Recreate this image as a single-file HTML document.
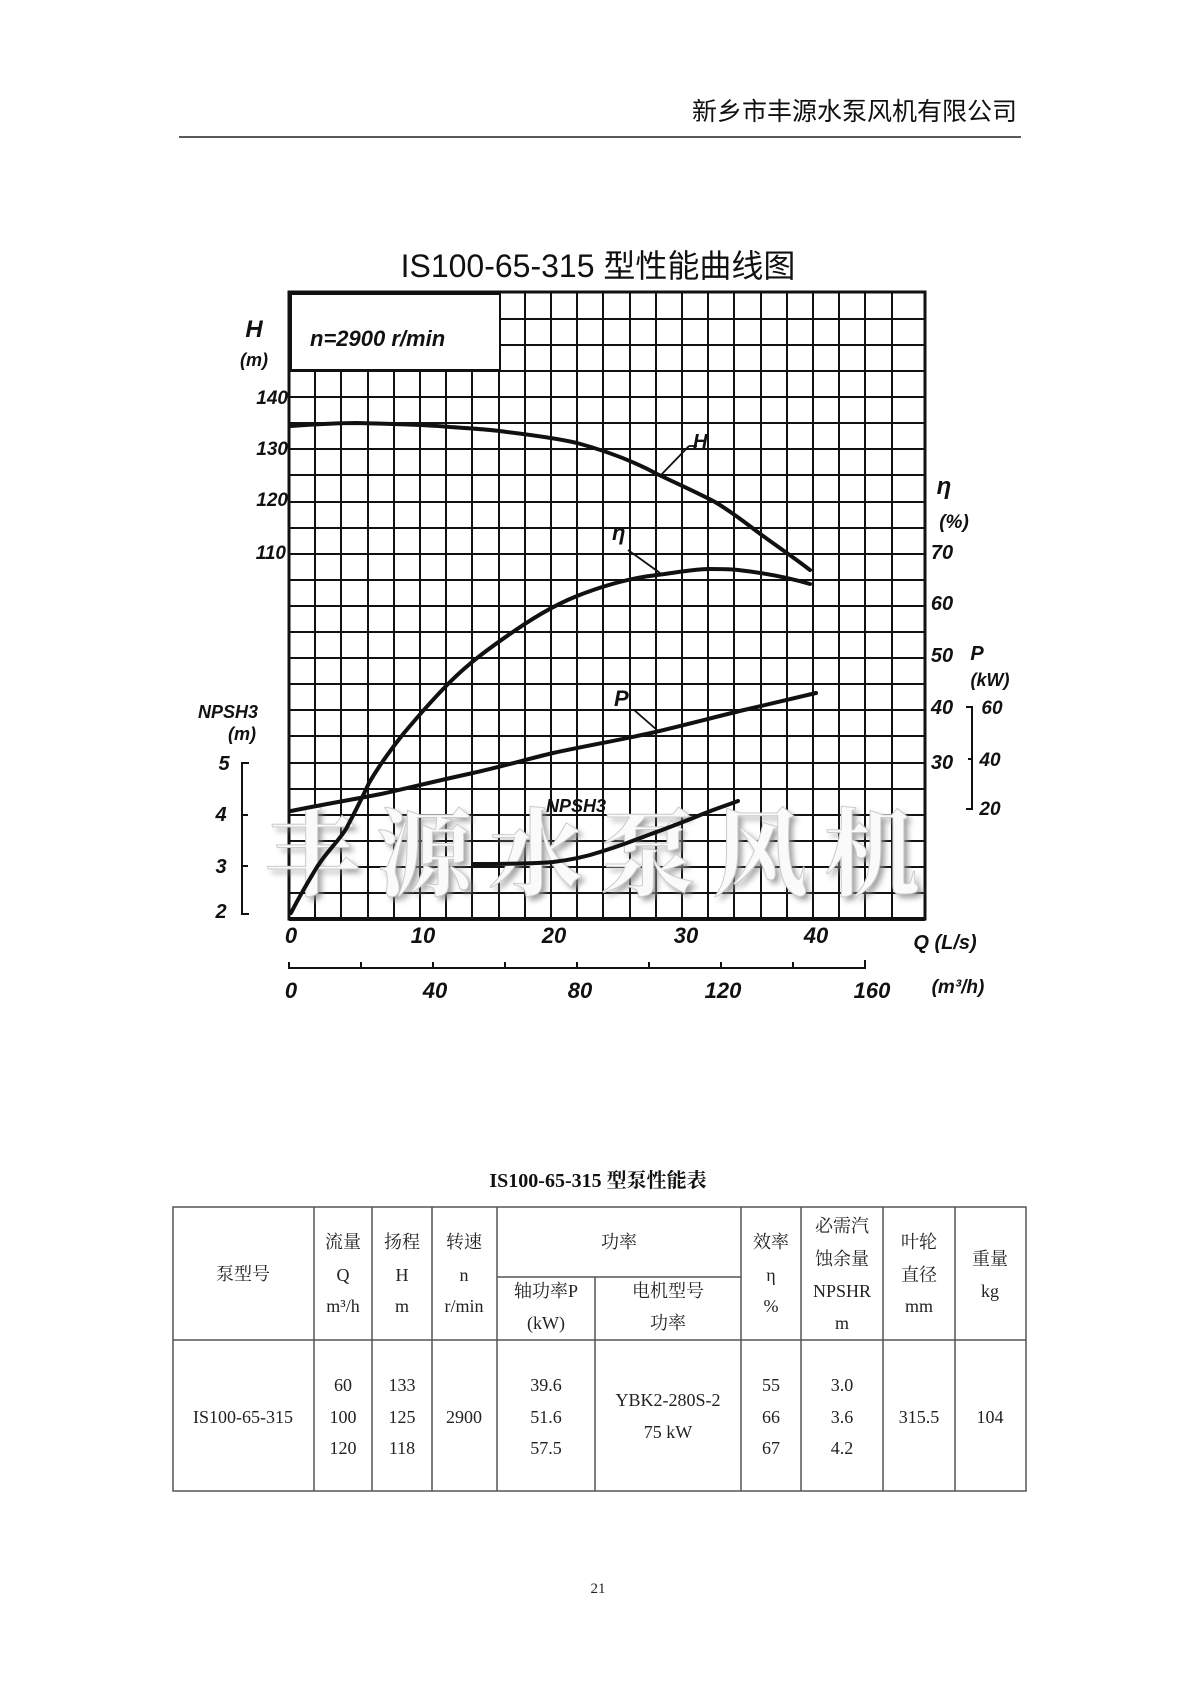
<!DOCTYPE html>
<html><head><meta charset="utf-8"><style>
html,body{margin:0;padding:0;background:#fff;}
svg{display:block;}
.hw{font-family:"Liberation Sans","Noto Sans CJK SC",sans-serif;font-style:italic;font-weight:bold;fill:#111;}
.sr{font-family:"Liberation Serif","Noto Serif CJK SC",serif;fill:#222;font-size:18px;}
</style></head><body>
<svg width="1200" height="1698" viewBox="0 0 1200 1698" xmlns="http://www.w3.org/2000/svg">
<defs><filter id="bl" x="-10%" y="-30%" width="120%" height="160%"><feGaussianBlur stdDeviation="3"/></filter></defs>
<rect width="1200" height="1698" fill="#fff"/>
<text x="1017" y="120" text-anchor="end" font-family="Liberation Sans,'Noto Sans CJK SC',sans-serif" font-size="25" fill="#111">新乡市丰源水泵风机有限公司</text>
<line x1="179" y1="137" x2="1021" y2="137" stroke="#222" stroke-width="1.5"/>

<text x="598" y="277" text-anchor="middle" font-family="Liberation Sans,'Noto Sans CJK SC',sans-serif" font-size="32" fill="#111">IS100-65-315 型性能曲线图</text>

<g stroke="#111" stroke-width="2">
<line x1="289" y1="919" x2="925" y2="919"/>
<line x1="289" y1="893" x2="925" y2="893"/><line x1="289" y1="867" x2="925" y2="867"/>
<line x1="289" y1="841" x2="925" y2="841"/><line x1="289" y1="815" x2="925" y2="815"/>
<line x1="289" y1="789" x2="925" y2="789"/><line x1="289" y1="763" x2="925" y2="763"/>
<line x1="289" y1="736" x2="925" y2="736"/><line x1="289" y1="710" x2="925" y2="710"/>
<line x1="289" y1="684" x2="925" y2="684"/><line x1="289" y1="658" x2="925" y2="658"/>
<line x1="289" y1="632" x2="925" y2="632"/><line x1="289" y1="606" x2="925" y2="606"/>
<line x1="289" y1="580" x2="925" y2="580"/><line x1="289" y1="554" x2="925" y2="554"/>
<line x1="289" y1="528" x2="925" y2="528"/><line x1="289" y1="502" x2="925" y2="502"/>
<line x1="289" y1="475" x2="925" y2="475"/><line x1="289" y1="449" x2="925" y2="449"/>
<line x1="289" y1="423" x2="925" y2="423"/><line x1="289" y1="397" x2="925" y2="397"/>
<line x1="289" y1="371" x2="925" y2="371"/><line x1="289" y1="345" x2="925" y2="345"/>
<line x1="289" y1="319" x2="925" y2="319"/>
</g>
<g stroke="#111" stroke-width="2">
<line x1="315" y1="292" x2="315" y2="919"/><line x1="341" y1="292" x2="341" y2="919"/>
<line x1="368" y1="292" x2="368" y2="919"/><line x1="394" y1="292" x2="394" y2="919"/>
<line x1="420" y1="292" x2="420" y2="919"/><line x1="446" y1="292" x2="446" y2="919"/>
<line x1="472" y1="292" x2="472" y2="919"/><line x1="499" y1="292" x2="499" y2="919"/>
<line x1="525" y1="292" x2="525" y2="919"/><line x1="551" y1="292" x2="551" y2="919"/>
<line x1="577" y1="292" x2="577" y2="919"/><line x1="603" y1="292" x2="603" y2="919"/>
<line x1="630" y1="292" x2="630" y2="919"/><line x1="656" y1="292" x2="656" y2="919"/>
<line x1="682" y1="292" x2="682" y2="919"/><line x1="708" y1="292" x2="708" y2="919"/>
<line x1="734" y1="292" x2="734" y2="919"/><line x1="761" y1="292" x2="761" y2="919"/>
<line x1="787" y1="292" x2="787" y2="919"/><line x1="813" y1="292" x2="813" y2="919"/>
<line x1="839" y1="292" x2="839" y2="919"/><line x1="865" y1="292" x2="865" y2="919"/>
<line x1="892" y1="292" x2="892" y2="919"/>
</g>
<rect x="291" y="294" width="209" height="76" fill="#fff" stroke="#111" stroke-width="2"/>
<rect x="289" y="292" width="636" height="627" fill="none" stroke="#111" stroke-width="3"/>
<line x1="289" y1="919" x2="925" y2="919" stroke="#111" stroke-width="4"/>
<text x="310" y="346" class="hw" font-size="22" font-weight="normal">n=2900 r/min</text>

<!-- watermark -->
<text x="604" y="892" text-anchor="middle" font-family="'Noto Serif CJK SC','Noto Sans CJK SC',serif" font-size="96" font-weight="bold" fill="#888" letter-spacing="16" filter="url(#bl)" opacity="0.8">丰源水泵风机</text>
<text x="600" y="888" text-anchor="middle" font-family="'Noto Serif CJK SC','Noto Sans CJK SC',serif" font-size="96" font-weight="bold" fill="#fafafa" stroke="#ccc" stroke-width="1" letter-spacing="16">丰源水泵风机</text>

<g fill="none" stroke="#111" stroke-width="4" stroke-linecap="round">
<path d="M291,426 C320,424 340,423 357,423 C400,424 430,425 450,427 C480,429 495,430 507,432 C540,436 560,439 577,443 C610,452 635,462 657,474 C680,485 700,494 715,502 C730,511 742,520 755,530 C775,545 792,556 810,570"/>
<path d="M291,913 C300,895 308,882 317,867 C328,850 338,842 346,829 C355,812 362,798 369,783 C380,764 392,748 404,733 C420,714 435,697 450,682 C470,662 490,648 507,636 C530,620 552,606 577,596 C605,585 630,578 657,575 C680,572 695,569 709,569 C722,569 730,569 738,570 C765,573 790,578 810,584"/>
<path d="M291,811 C320,805 350,800 381,794 C412,787 445,779 473,773 C500,767 528,759 553,753 C585,746 620,740 651,733 C685,725 715,717 744,710 C770,704 795,698 816,693"/>
<path d="M473,864 C500,864 530,864 553,862 C570,860 585,857 600,852 C620,846 635,840 651,834 C668,828 683,822 698,816 C712,810 725,806 738,801"/>
</g>
<g stroke="#111" stroke-width="1.8" fill="none">
<line x1="660" y1="476" x2="689" y2="446"/><line x1="689" y1="446" x2="697" y2="446"/>
<line x1="628" y1="550" x2="660" y2="573"/>
<line x1="634" y1="710" x2="657" y2="730"/>
</g>
<text x="693" y="448" class="hw" font-size="20" font-weight="normal">H</text>
<text x="612" y="540" class="hw" font-size="22" font-weight="normal">η</text>
<text x="614" y="706" class="hw" font-size="22">P</text>
<text x="546" y="812" class="hw" font-size="18">NPSH3</text>

<text x="254" y="337" class="hw" font-size="24" text-anchor="middle" font-weight="normal">H</text>
<text x="254" y="366" class="hw" font-size="18" text-anchor="middle">(m)</text>
<g class="hw" font-size="19" font-weight="normal" text-anchor="end">
<text x="288" y="404">140</text><text x="288" y="455">130</text>
<text x="288" y="506">120</text><text x="286" y="559">110</text>
</g>
<text x="228" y="718" class="hw" font-size="18" text-anchor="middle">NPSH3</text>
<text x="242" y="740" class="hw" font-size="18" text-anchor="middle">(m)</text>
<path d="M249,763 H242 V914 H249 M242,815 H248 M242,866 H248" stroke="#111" stroke-width="2" fill="none"/>
<g class="hw" font-size="20" font-weight="normal" text-anchor="middle">
<text x="224" y="770">5</text><text x="221" y="821">4</text>
<text x="221" y="873">3</text><text x="221" y="918">2</text>
</g>

<text x="944" y="494" class="hw" font-size="24" font-weight="normal" text-anchor="middle">η</text>
<text x="954" y="528" class="hw" font-size="19" text-anchor="middle">(%)</text>
<g class="hw" font-size="20" font-weight="normal" text-anchor="middle">
<text x="942" y="559">70</text><text x="942" y="610">60</text>
<text x="942" y="662">50</text><text x="942" y="714">40</text><text x="942" y="769">30</text>
</g>
<text x="977" y="660" class="hw" font-size="20" text-anchor="middle">P</text>
<text x="990" y="686" class="hw" font-size="18" text-anchor="middle">(kW)</text>
<path d="M966,707 H972 V809 H966 M972,759 H968" stroke="#111" stroke-width="2" fill="none"/>
<g class="hw" font-size="19" font-weight="normal" text-anchor="middle">
<text x="992" y="714">60</text><text x="990" y="766">40</text><text x="990" y="815">20</text>
</g>

<g class="hw" font-size="22" font-weight="normal" text-anchor="middle">
<text x="291" y="943">0</text><text x="423" y="943">10</text><text x="554" y="943">20</text>
<text x="686" y="943">30</text><text x="816" y="943">40</text>
</g>
<text x="945" y="949" class="hw" font-size="20" text-anchor="middle">Q (L/s)</text>
<path d="M289,962 V968 H865 V960 M361,968 V962 M433,968 V962 M505,968 V962 M577,968 V962 M649,968 V962 M721,968 V962 M793,968 V962" stroke="#111" stroke-width="2" fill="none"/>
<g class="hw" font-size="22" font-weight="normal" text-anchor="middle">
<text x="291" y="998">0</text><text x="435" y="998">40</text><text x="580" y="998">80</text>
<text x="723" y="998">120</text><text x="872" y="998">160</text>
</g>
<text x="958" y="993" class="hw" font-size="19" text-anchor="middle">(m³/h)</text>

<text x="598" y="1187" text-anchor="middle" font-family="'Liberation Serif','Noto Serif CJK SC',serif" font-size="20" font-weight="bold" fill="#111">IS100-65-315 型泵性能表</text>
<g stroke="#555" stroke-width="1.5" fill="none">
<rect x="173" y="1207" width="853" height="284"/>
<line x1="173" y1="1340" x2="1026" y2="1340"/>
<line x1="497" y1="1277" x2="741" y2="1277"/>
<line x1="314" y1="1207" x2="314" y2="1491"/><line x1="372" y1="1207" x2="372" y2="1491"/>
<line x1="432" y1="1207" x2="432" y2="1491"/><line x1="497" y1="1207" x2="497" y2="1491"/>
<line x1="595" y1="1277" x2="595" y2="1491"/><line x1="741" y1="1207" x2="741" y2="1491"/>
<line x1="801" y1="1207" x2="801" y2="1491"/><line x1="883" y1="1207" x2="883" y2="1491"/>
<line x1="955" y1="1207" x2="955" y2="1491"/>
</g>
<g class="sr" text-anchor="middle">
<text x="243" y="1280">泵型号</text>
<text x="343" y="1248">流量</text><text x="343" y="1281">Q</text><text x="343" y="1312">m³/h</text>
<text x="402" y="1248">扬程</text><text x="402" y="1281">H</text><text x="402" y="1312">m</text>
<text x="464" y="1248">转速</text><text x="464" y="1281">n</text><text x="464" y="1312">r/min</text>
<text x="619" y="1248">功率</text>
<text x="546" y="1297">轴功率P</text><text x="546" y="1329">(kW)</text>
<text x="668" y="1297">电机型号</text><text x="668" y="1329">功率</text>
<text x="771" y="1248">效率</text><text x="771" y="1281">η</text><text x="771" y="1312">%</text>
<text x="842" y="1232">必需汽</text><text x="842" y="1265">蚀余量</text><text x="842" y="1297">NPSHR</text><text x="842" y="1329">m</text>
<text x="919" y="1248">叶轮</text><text x="919" y="1281">直径</text><text x="919" y="1312">mm</text>
<text x="990" y="1265">重量</text><text x="990" y="1297">kg</text>
<text x="243" y="1423">IS100-65-315</text>
<text x="343" y="1391">60</text><text x="343" y="1423">100</text><text x="343" y="1454">120</text>
<text x="402" y="1391">133</text><text x="402" y="1423">125</text><text x="402" y="1454">118</text>
<text x="464" y="1423">2900</text>
<text x="546" y="1391">39.6</text><text x="546" y="1423">51.6</text><text x="546" y="1454">57.5</text>
<text x="668" y="1406">YBK2-280S-2</text><text x="668" y="1438">75 kW</text>
<text x="771" y="1391">55</text><text x="771" y="1423">66</text><text x="771" y="1454">67</text>
<text x="842" y="1391">3.0</text><text x="842" y="1423">3.6</text><text x="842" y="1454">4.2</text>
<text x="919" y="1423">315.5</text><text x="990" y="1423">104</text>
</g>
<text x="598" y="1593" text-anchor="middle" font-family="'Liberation Serif',serif" font-size="15" fill="#222">21</text>
</svg>
</body></html>
